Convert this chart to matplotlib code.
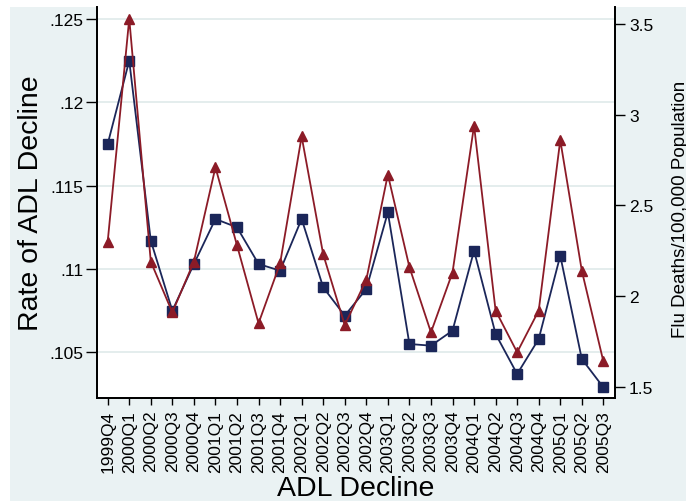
import matplotlib
matplotlib.use("Agg")
import matplotlib.pyplot as plt
from matplotlib.patches import Rectangle

plt.rcParams['font.family'] = ['Liberation Sans', 'DejaVu Sans']

quarters = ['1999Q4', '2000Q1', '2000Q2', '2000Q3', '2000Q4', '2001Q1',
            '2001Q2', '2001Q3', '2001Q4', '2002Q1', '2002Q2', '2002Q3',
            '2002Q4', '2003Q1', '2003Q2', '2003Q3', '2003Q4', '2004Q1',
            '2004Q2', '2004Q3', '2004Q4', '2005Q1', '2005Q2', '2005Q3']

# rate of ADL decline (left axis)
adl_rate = [.1175, .1225, .1117, .1075, .1103, .1130, .1125, .1103,
            .1099, .1130, .1089, .1072, .1088, .1134, .1055, .1054,
            .1063, .1111, .1061, .1037, .1058, .1108, .1046, .1029]

# flu deaths per 100,000 (right axis)
flu_deaths = [2.30, 3.53, 2.19, 1.91, 2.19, 2.71, 2.28, 1.85,
              2.18, 2.88, 2.23, 1.84, 2.09, 2.67, 2.16, 1.80,
              2.13, 2.94, 1.92, 1.69, 1.92, 2.86, 2.14, 1.64]

left_ticks = [.105, .11, .115, .12, .125]
left_labels = ['.105', '.11', '.115', '.12', '.125']
right_ticks = [1.5, 2, 2.5, 3, 3.5]
right_labels = ['1.5', '2', '2.5', '3', '3.5']

navy = '#1b2659'
maroon = '#8c1b27'
bg = '#eaf2f3'
grid = '#e2ecec'

fig = plt.figure(figsize=(6.86, 5.02), dpi=100, facecolor='white')
# graph region (light bluish gray) with a small white margin top/left
fig.patches.append(Rectangle((10 / 686, 0), 1, 494 / 502, transform=fig.transFigure,
                             facecolor=bg, edgecolor='none', zorder=-10))

ax = fig.add_axes([96.7 / 686, 103 / 502, (615 - 96.7) / 686, 391 / 502])
ax.set_facecolor('white')
x = list(range(len(quarters)))

ax.plot(x, adl_rate, color=navy, lw=1.3, marker='s', ms=6.8, zorder=3)
ax.set_xlim(-0.51, 23.54)
ax.set_ylim(.10226, .12572)
ax.set_yticks(left_ticks)
ax.set_yticklabels(left_labels)
ax.set_xticks(x)
ax.set_xticklabels(quarters, rotation=90)
ax.grid(axis='y', color=grid, lw=1.3)
ax.set_axisbelow(True)
ax.tick_params(axis='y', length=8, width=1, labelsize=12.5, pad=1.5)
ax.tick_params(axis='x', length=5, width=1, labelsize=12.5, pad=3.5)
ax.set_ylabel('Rate of ADL Decline', fontsize=20.5, labelpad=4)
ax.set_xlabel('ADL Decline', fontsize=20.5, labelpad=2)
ax.spines['top'].set_visible(False)
for s in ['left', 'bottom', 'right']:
    ax.spines[s].set_linewidth(1.3)

ax2 = ax.twinx()
ax2.plot(x, flu_deaths, color=maroon, lw=1.3, marker='^', ms=7.5, zorder=3)
ax2.set_ylim(1.438, 3.594)
ax2.set_yticks(right_ticks)
ax2.set_yticklabels(right_labels)
ax2.tick_params(axis='y', length=7, width=1, labelsize=12.5, pad=3)
ax2.spines['top'].set_visible(False)
for s in ['left', 'bottom', 'right']:
    ax2.spines[s].set_linewidth(1.3)

fig.text(672 / 686, (502 - 209) / 502, 'Flu Deaths/100,000 Population',
         rotation=90, ha='left', va='center', fontsize=13.5)

fig.savefig('out.png', dpi=100, facecolor='white')
